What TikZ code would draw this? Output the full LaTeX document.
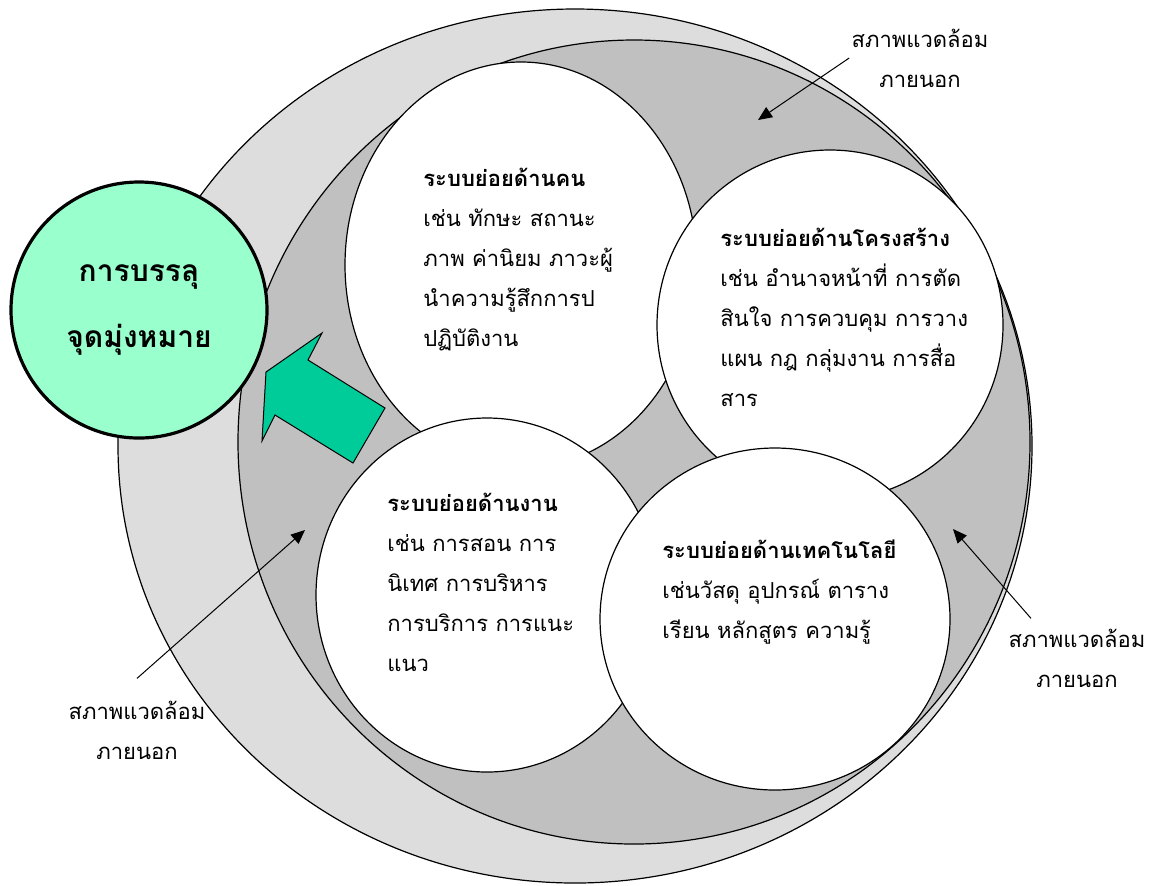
\documentclass[tikz,border=0pt]{standalone}
\usepackage{fontspec}
\setmainfont[Script=Thai]{Loma}
\usetikzlibrary{shapes.geometric,arrows.meta}
\definecolor{outergray}{HTML}{DDDDDD}
\definecolor{innergray}{HTML}{C0C0C0}
\definecolor{goalgreen}{HTML}{99FFCC}
\definecolor{arrowgreen}{HTML}{00CC99}
\tikzset{
  subsys/.style={draw,ellipse,fill=white,inner sep=0pt,line width=0.6pt},
  body/.style={align=left,inner sep=0pt,anchor=north west,font=\fontsize{11}{20}\selectfont},
  envlbl/.style={align=center,inner sep=1pt,font=\fontsize{11}{20}\selectfont},
  envarr/.style={line width=0.5pt,-{Triangle[length=7pt,width=6pt]}}
}

\begin{document}
\begin{tikzpicture}[x=0.5pt,y=-0.5pt]
\useasboundingbox (0,0) rectangle (1154,885);
\draw [fill=outergray,line width=0.6pt] (575,446) ellipse [x radius=457,y radius=437];
\draw [fill=innergray,line width=0.6pt] (634,442) ellipse [x radius=396,y radius=402];

\node [subsys,minimum width=176pt,minimum height=203pt] (kon) at (521,265){};
\node [subsys,minimum width=173pt,minimum height=175pt] (khrong) at (830,325){};
\node [subsys,minimum width=171pt,minimum height=177pt] (ngan) at (487,595){};
\node [subsys,minimum width=175pt,minimum height=171pt] (tech) at (775,619){};

\node [draw,circle,fill=goalgreen,line width=1.6pt,minimum size=128pt,inner sep=0pt,align=center,font=\bfseries\fontsize{15}{33}\selectfont] (goal) at (139,310){การบรรลุ\\จุดมุ่งหมาย};
\draw [fill=arrowgreen,line width=0.5pt] (262,441) -- (266,372) -- (322,333) -- (308,360) -- (385,408) -- (353,463) -- (275,415) -- cycle;

\node [body] (konTxt) at (423,168){\textbf{ระบบย่อยด้านคน}\\เช่น ทักษะ สถานะ\\ภาพ ค่านิยม ภาวะผู้\\นำความรู้สึกการป\\ปฏิบัติงาน};
\node [body] (khrongTxt) at (720,228){\textbf{ระบบย่อยด้านโครงสร้าง}\\เช่น อำนาจหน้าที่ การตัด\\สินใจ การควบคุม การวาง\\แผน กฎ กลุ่มงาน การสื่อ\\สาร};
\node [body] (nganTxt) at (387,493){\textbf{ระบบย่อยด้านงาน}\\เช่น การสอน การ\\นิเทศ การบริหาร\\การบริการ การแนะ\\แนว};
\node [body] (techTxt) at (662,539){\textbf{ระบบย่อยด้านเทคโนโลยี}\\เช่นวัสดุ อุปกรณ์ ตาราง\\เรียน หลักสูตร ความรู้};

\node [envlbl] (envTop) at (920,58){สภาพแวดล้อม\\ภายนอก};
\node [envlbl] (envRight) at (1077,658){สภาพแวดล้อม\\ภายนอก};
\node [envlbl] (envLeft) at (137,730){สภาพแวดล้อม\\ภายนอก};
\coordinate (hitTop) at (758,120);
\coordinate (hitRight) at (953,529);
\coordinate (hitLeft) at (305,530);
\draw [envarr] (envTop.west) -- (hitTop);
\draw [envarr] ([xshift=-23pt,yshift=4pt]envRight.north) -- (hitRight);
\draw [envarr] ([yshift=10pt]envLeft.north) -- (hitLeft);
\end{tikzpicture}
\end{document}
